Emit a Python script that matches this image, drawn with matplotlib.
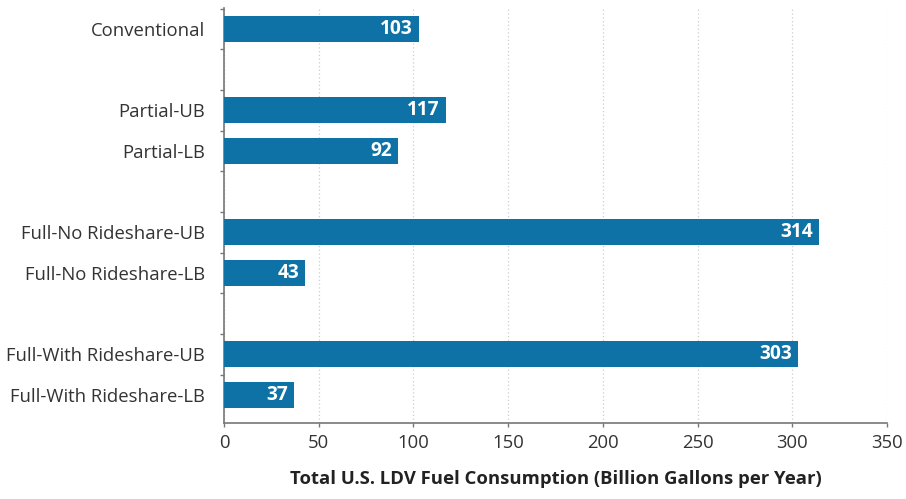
import numpy as np
import matplotlib
matplotlib.use("Agg")
from matplotlib import pyplot as plt
from matplotlib.ticker import FixedLocator

plt.rcParams['font.family'] = ['Open Sans', 'DejaVu Sans']

labels = ['Conventional', 'Partial-UB', 'Partial-LB',
          'Full-No Rideshare-UB', 'Full-No Rideshare-LB',
          'Full-With Rideshare-UB', 'Full-With Rideshare-LB']
values = [103, 117, 92, 314, 43, 303, 37]
# slot of each bar; empty slots separate the groups
slots = [0, 2, 3, 5, 6, 8, 9]

bar_color = '#0f72a6'
text_color = '#333333'

fig = plt.figure(figsize=(9.06, 4.99), dpi=100)
ax = fig.add_axes([0.2472, 0.1523, 0.7318, 0.8317])

ax.barh(slots, values, height=0.64, color=bar_color, zorder=3)
for s, v in zip(slots, values):
    ax.text(v - 3.2, s, str(v), ha='right', va='center', color='white',
            fontsize=13.8, fontweight='bold', zorder=4)

ax.set_xlim(0, 350)
ax.set_ylim(9.69, -0.52)
ax.set_xticks(np.arange(0, 351, 50))
ax.set_yticks(slots)
ax.set_yticklabels(labels)
ax.yaxis.set_minor_locator(FixedLocator(np.arange(-0.5, 9, 1.0)))

ax.tick_params(axis='y', which='major', length=0, pad=13.5,
               labelsize=13.3, labelcolor=text_color)
ax.tick_params(axis='y', which='minor', length=2.8, width=1, color='#777777')
ax.tick_params(axis='x', length=3, width=1, color='#777777', pad=5,
               labelsize=13.3, labelcolor=text_color)

ax.grid(axis='x', linestyle=(0, (1, 2)), color='#cccccc', linewidth=0.9, zorder=0)
for side in ('top', 'right'):
    ax.spines[side].set_visible(False)
for side in ('left', 'bottom'):
    ax.spines[side].set_color('#777777')
    ax.spines[side].set_linewidth(1.2)

ax.set_xlabel('Total U.S. LDV Fuel Consumption (Billion Gallons per Year)',
              fontsize=13.3, fontweight='bold', color='#222222', labelpad=13)

fig.savefig('out.png', dpi=100)
